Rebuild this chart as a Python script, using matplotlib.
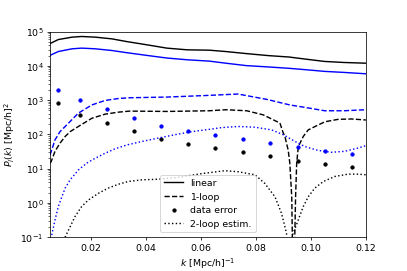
import numpy as np
import matplotlib.pyplot as plt

# values (k in h/Mpc, P in (Mpc/h)^2)
k_lin = [0.005, 0.008, 0.013, 0.0165, 0.0215, 0.0275, 0.033, 0.040, 0.0475, 0.055,
         0.063, 0.069, 0.0765, 0.0845, 0.092, 0.098, 0.105, 0.112, 0.12]
lin_k = [45000, 58900, 69200, 72400, 69200, 61700, 51300, 41700, 33100, 29500,
         28800, 26300, 22900, 20000, 18200, 15800, 13500, 12600, 12000]
lin_b = [20400, 26300, 31600, 33100, 31600, 28200, 24300, 20400, 17000, 15100,
         13800, 12000, 10200, 9330, 8510, 7760, 6920, 6460, 5890]

k_1l_b = [0.005, 0.0056, 0.0068, 0.0086, 0.0105, 0.0153, 0.0202, 0.025, 0.030, 0.034,
          0.0475, 0.063, 0.0734, 0.084, 0.0923, 0.097, 0.105, 0.112, 0.12]
oneloop_b = [25, 35, 69, 120, 170, 417, 724, 977, 1120, 1175,
             1230, 1380, 1510, 1050, 724, 630, 490, 490, 525]

k_1l_k = [0.005, 0.0054, 0.0068, 0.0086, 0.0105, 0.0123, 0.0153, 0.0202, 0.025, 0.030,
          0.034, 0.0475, 0.063, 0.069, 0.0766, 0.0826, 0.0887, 0.0899, 0.0905, 0.0917,
          0.0923, 0.0930, 0.0936, 0.0944, 0.0948, 0.0954, 0.0972, 0.0990, 0.1015, 0.1051,
          0.1099, 0.1148, 0.12]
oneloop_k = [14.5, 16, 32, 55, 87, 120, 170, 295, 389, 447,
             479, 468, 490, 525, 490, 372, 214, 110, 87, 35,
             14.5, 1.5, 0.001, 1.5, 14.5, 44, 87, 135, 170, 234,
             275, 282, 263]

k_2l_b = [0.005, 0.0056, 0.0068, 0.0080, 0.0093, 0.0105, 0.0123, 0.0153, 0.0184, 0.0214,
          0.025, 0.0287, 0.0329, 0.0384, 0.0444, 0.0505, 0.0566, 0.0632, 0.0675, 0.0735,
          0.0796, 0.0857, 0.0899, 0.0942, 0.0978, 0.1026, 0.1075, 0.1123, 0.1172, 0.12]
twoloop_b = [0.07, 0.115, 0.316, 0.78, 1.5, 2.7, 4.7, 9.1, 14.5, 20,
             28, 38, 49, 62, 78, 98, 120, 141, 158, 170,
             162, 135, 98, 62, 44, 34, 30, 32, 40, 47]

k_2l_k = [0.0100, 0.0105, 0.0123, 0.0141, 0.0165, 0.0189, 0.0226, 0.0262, 0.0299, 0.0335,
          0.0384, 0.0444, 0.052, 0.060, 0.0687, 0.0735, 0.0796, 0.0832, 0.0869, 0.0893,
          0.0911, 0.0921, 0.0930, 0.0954, 0.0972, 0.0990, 0.1014, 0.1045, 0.1087, 0.1136,
          0.1172, 0.12]
twoloop_k = [0.06, 0.10, 0.20, 0.40, 0.78, 1.2, 1.9, 2.7, 3.5, 4.2,
             4.7, 4.9, 5.6, 7.1, 8.7, 8.1, 6.6, 3.7, 1.5, 0.49,
             0.13, 0.001, 0.10, 0.32, 0.78, 1.5, 2.7, 4.2, 5.9, 6.9,
             6.9, 6.6]

k_dat = [0.0078, 0.016, 0.0257, 0.0355, 0.0455, 0.0553, 0.0652, 0.0752, 0.0852, 0.0952,
         0.1051, 0.1151]
err_b = [1970, 980, 540, 305, 180, 125, 98, 74, 56, 43, 33, 27.5]
err_k = [800, 380, 215, 122, 74, 53, 40, 30, 23.5, 17, 13.5, 11]

xticks = [0.02, 0.04, 0.06, 0.08, 0.10, 0.12]
yticks = [1e-1, 1e0, 1e1, 1e2, 1e3, 1e4, 1e5]

fig = plt.figure(figsize=(6, 4), dpi=407/6)
fig.subplots_adjust(left=0.123, right=0.899, bottom=0.125, top=0.882)
ax = fig.add_subplot(111)

ax.plot(k_lin, lin_k, 'k-', label='linear')
ax.plot(k_lin, lin_b, 'b-')
ax.plot(k_1l_k, oneloop_k, 'k--', label='1-loop')
ax.plot(k_1l_b, oneloop_b, 'b--')
ax.plot(k_dat, err_k, 'k.', ms=7, label='data error')
ax.plot(k_dat, err_b, 'b.', ms=7)
ax.plot(k_2l_k, twoloop_k, 'k:', label='2-loop estim.')
ax.plot(k_2l_b, twoloop_b, 'b:')

ax.set_yscale('log')
ax.set_yticks(yticks)
ax.set_xticks(xticks)
ax.set_xticklabels(['%.2f' % x for x in xticks])
ax.set_xlim(0.005, 0.12)
ax.set_ylim(1e-1, 1e5)
ax.set_xlabel(r'$k$ [Mpc/h]$^{-1}$')
ax.set_ylabel(r'$P_l(k)$ [Mpc/h]$^2$')
ax.legend(loc='lower center')

plt.savefig('out.png')
